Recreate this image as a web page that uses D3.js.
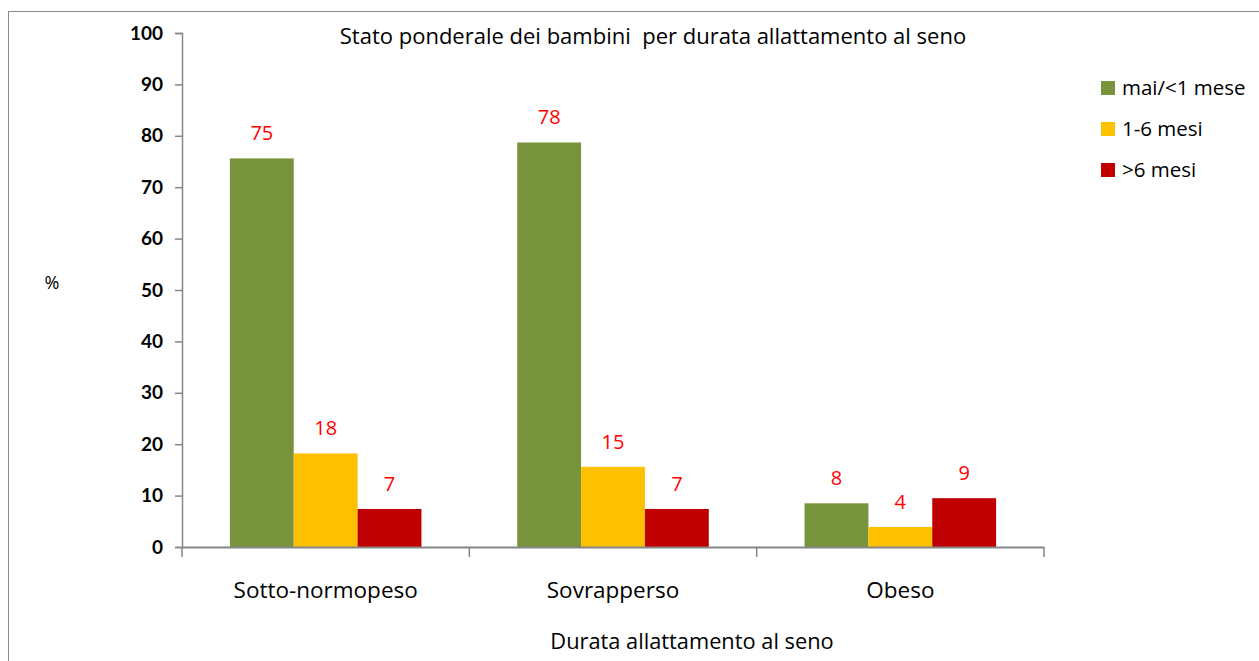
<!DOCTYPE html>
<html lang="it">

<head>
  <meta charset="UTF-8">
  <title>Stato ponderale dei bambini</title>
  <style>
    html, body {
      margin: 0;
      padding: 0;
      background: #fff;
      overflow: hidden;
    }

    #chart text {
      font-family: "Open Sans", "Noto Sans", sans-serif;
      white-space: pre;
    }
  </style>
</head>

<body>
  <div id="chart"></div>
  <script src="https://cdn.jsdelivr.net/npm/d3@7"></script>
  <script>
    // dati
    const categories = ['Sotto-normopeso', 'Sovrapperso', 'Obeso'];
    const series = ['mai/<1 mese', '1-6 mesi', '>6 mesi'];
    const colors = ['#77933C', '#FFC000', '#C00000'];
    // valori per serie, nell'ordine delle categorie
    const maiValues = [75.6, 78.7, 8.5];
    const unoSeiValues = [18.2, 15.6, 3.9];
    const oltreSeiValues = [7.4, 7.4, 9.5];
    // etichette mostrate sopra le barre
    const maiLabels = ['75', '78', '8'];
    const unoSeiLabels = ['18', '15', '4'];
    const oltreSeiLabels = ['7', '7', '9'];
    const yTicks = [0, 10, 20, 30, 40, 50, 60, 70, 80, 90, 100];

    const title = 'Stato ponderale dei bambini  per durata allattamento al seno';
    const xTitle = 'Durata allattamento al seno';
    const yTitle = '%';

    const width = 1259, height = 661;
    const margin = { top: 33, right: 215, bottom: 114, left: 182 };

    const seriesValues = [maiValues, unoSeiValues, oltreSeiValues];
    const seriesLabels = [maiLabels, unoSeiLabels, oltreSeiLabels];

    const svg = d3.select('#chart').append('svg')
      .attr('width', width)
      .attr('height', height);

    // cornice del grafico
    svg.append('rect')
      .attr('x', 8.5)
      .attr('y', 11.5)
      .attr('width', width + 20)
      .attr('height', height + 20)
      .attr('fill', 'none')
      .attr('stroke', '#8c8c8c');

    const x0 = d3.scaleBand()
      .domain(categories)
      .range([margin.left, width - margin.right])
      .paddingInner(0)
      .paddingOuter(0);

    const x1 = d3.scaleBand()
      .domain(series)
      .range([0, x0.bandwidth()])
      .paddingInner(0)
      .paddingOuter(0.75);

    const y = d3.scaleLinear()
      .domain([0, 100])
      .range([height - margin.bottom, margin.top]);

    // barre
    series.forEach((s, si) => {
      const g = svg.append('g');
      g.selectAll('rect')
        .data(categories)
        .join('rect')
        .attr('x', c => x0(c) + x1(s))
        .attr('y', (c, i) => y(seriesValues[si][i]))
        .attr('width', x1.bandwidth())
        .attr('height', (c, i) => y(0) - y(seriesValues[si][i]))
        .attr('fill', colors[si]);

      g.selectAll('text')
        .data(categories)
        .join('text')
        .attr('x', c => x0(c) + x1(s) + x1.bandwidth() / 2)
        .attr('y', (c, i) => y(seriesValues[si][i]) - 18)
        .attr('text-anchor', 'middle')
        .style('font-size', '20px')
        .attr('fill', '#FF0000')
        .text((c, i) => seriesLabels[si][i]);
    });

    // asse y
    const yAxis = svg.append('g')
      .attr('transform', `translate(${margin.left},0)`)
      .call(d3.axisLeft(y).tickValues(yTicks).tickSize(7).tickPadding(12));
    yAxis.selectAll('line, path').attr('stroke', '#868686').attr('stroke-width', 1.5);
    yAxis.selectAll('text')
      .style('font-family', 'Lato, sans-serif')
      .style('font-size', '19px')
      .style('font-weight', 'bold')
      .attr('fill', '#000');

    // asse x
    const xAxis = svg.append('g')
      .attr('transform', `translate(0,${y(0)})`)
      .call(d3.axisBottom(x0).tickSize(0).tickPadding(35).tickSizeOuter(0));
    xAxis.select('path').attr('stroke', '#868686').attr('stroke-width', 2);
    xAxis.selectAll('text')
      .style('font-size', '22.5px')
      .attr('fill', '#000');
    xAxis.selectAll('.sep')
      .data(categories.concat(['end']))
      .join('line')
      .attr('class', 'sep')
      .attr('x1', (c, i) => i < categories.length ? x0(c) : x0.range()[1])
      .attr('x2', (c, i) => i < categories.length ? x0(c) : x0.range()[1])
      .attr('y1', 0)
      .attr('y2', 10)
      .attr('stroke', '#868686')
      .attr('stroke-width', 1.5);

    // titoli
    svg.append('text')
      .attr('x', 653)
      .attr('y', 44)
      .attr('text-anchor', 'middle')
      .style('font-size', '22px')
      .attr('fill', '#000')
      .text(title);

    svg.append('text')
      .attr('x', 692)
      .attr('y', 649)
      .attr('text-anchor', 'middle')
      .style('font-size', '21.8px')
      .attr('fill', '#000')
      .text(xTitle);

    svg.append('text')
      .attr('x', 52)
      .attr('y', 289)
      .attr('text-anchor', 'middle')
      .style('font-size', '18px')
      .attr('fill', '#000')
      .text(yTitle);

    // legenda
    const legend = svg.append('g')
      .attr('transform', 'translate(1101,81)');
    const row = legend.selectAll('g')
      .data(series)
      .join('g')
      .attr('transform', (d, i) => `translate(0,${i * 41})`);
    row.append('rect')
      .attr('width', 14)
      .attr('height', 14)
      .attr('fill', (d, i) => colors[i]);
    row.append('text')
      .attr('x', 21)
      .attr('y', 14)
      .style('font-size', '20.5px')
      .attr('fill', '#000')
      .text(d => d);
  </script>
</body>

</html>
